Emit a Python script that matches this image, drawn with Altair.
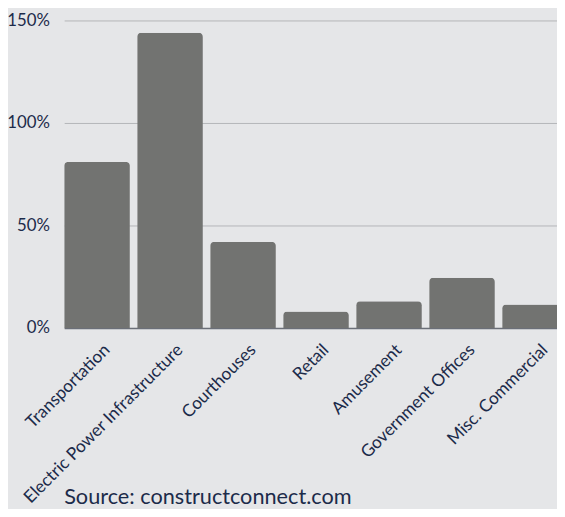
import altair as alt
import pandas as pd

categories = ["Transportation", "Electric Power Infrastructure", "Courthouses", "Retail",
              "Amusement", "Government Offices", "Misc. Commercial"]
values = [81, 144, 42, 8, 13, 24.5, 11.5]

df = pd.DataFrame({"category": categories, "value": [v / 100 for v in values]})

FONT = "Lato"
TEXT = "#1c2b4a"

chart = alt.Chart(df).mark_bar(
    color="#727371", cornerRadiusTopLeft=4, cornerRadiusTopRight=4
).encode(
    x=alt.X("category:N", sort=categories, title=None,
            scale=alt.Scale(paddingInner=0.1, paddingOuter=0, range=[0, 511]),
            axis=alt.Axis(labelAngle=-45, labelFontSize=17.5, labelColor=TEXT, labelFont=FONT,
                          labelLimit=0, labelOffset=4,
                          ticks=False, domainColor="#6b6f78", domainWidth=1.5, labelPadding=13)),
    y=alt.Y("value:Q", title=None,
            scale=alt.Scale(domain=[0, 1.5]),
            axis=alt.Axis(format="%", values=[0, 0.5, 1, 1.5], labelFontSize=17, labelColor=TEXT,
                          labelFont=FONT, ticks=False, domain=False, gridColor="#b3b5b8",
                          labelPadding=15)),
).properties(
    width=500, height=312,
    background="#e5e6e8",
    autosize=alt.AutoSizeParams(type="none"),
    padding={"left": 57, "top": 9, "right": 0, "bottom": 180},
    title=alt.TitleParams("Source: constructconnect.com", orient="bottom", anchor="start",
                          frame="group", fontSize=22, font=FONT, color=TEXT,
                          fontWeight="normal", offset=-19),
).configure_view(stroke=None, fill="#e5e6e8")

chart.save("out.html", embed_options={"renderer": "svg", "actions": False})
